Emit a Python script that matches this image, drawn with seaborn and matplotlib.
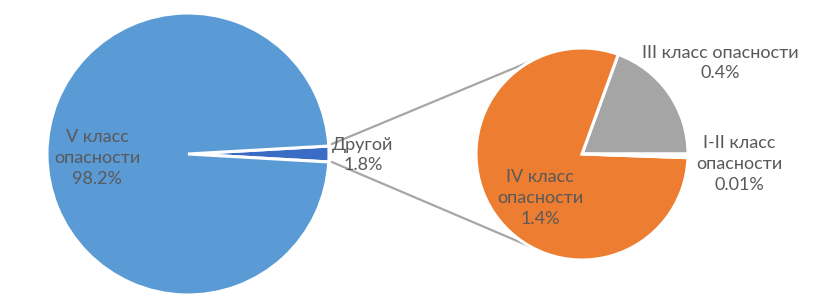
import numpy as np
import matplotlib
matplotlib.use("Agg")
import matplotlib.pyplot as plt
import seaborn as sns

# ---- data ----
main_labels = ["Другой", "V класс\nопасности"]
main_values = [1.8, 98.2]
main_texts = ["1.8%", "98.2%"]

sub_labels = ["III класс опасности", "IV класс\nопасности", "I-II класс\nопасности"]
sub_values = [0.35, 1.44, 0.01]
sub_texts = ["0.4%", "1.4%", "0.01%"]

sns.set_theme(style="white")
plt.rcParams["font.family"] = ["Lato", "DejaVu Sans"]

c_light = "#5B9BD5"
c_dark = "#3A6CC6"
c_orange = "#ED7D31"
c_gray = "#A5A5A5"
txt = "#595959"

W, H = 828, 305
fig = plt.figure(figsize=(W / 100, H / 100), dpi=100)
ax = fig.add_axes([0, 0, 1, 1])

# geometry (pixels, y up)
Lcx, Lcy, Lr = 188, H - 154, 141
Rcx, Rcy, Rr = 582, H - 154, 106

start = -main_values[0] / sum(main_values) * 360 / 2
wl, _ = ax.pie(main_values, colors=[c_dark, c_light], startangle=start,
               counterclock=True, center=(Lcx, Lcy), radius=Lr, frame=True,
               wedgeprops=dict(edgecolor="white", linewidth=2.2))

wr, _ = ax.pie(sub_values, colors=[c_gray, c_orange, "white"], startangle=0,
               counterclock=True, center=(Rcx, Rcy), radius=Rr, frame=True,
               wedgeprops=dict(edgecolor="white", linewidth=2.2))

# connector lines
t1, t2 = np.deg2rad(wl[0].theta1), np.deg2rad(wl[0].theta2)
p_top = (Lcx + Lr * np.cos(t2), Lcy + Lr * np.sin(t2))
p_bot = (Lcx + Lr * np.cos(t1), Lcy + Lr * np.sin(t1))
a_top, a_bot = np.deg2rad(119), np.deg2rad(-119)
q_top = (Rcx + Rr * np.cos(a_top), Rcy + Rr * np.sin(a_top))
q_bot = (Rcx + Rr * np.cos(a_bot), Rcy + Rr * np.sin(a_bot))
ax.plot([p_top[0] + 3, q_top[0]], [p_top[1] + 2, q_top[1]], color="#A6A6A6", lw=1.6, zorder=0)
ax.plot([p_bot[0] + 3, q_bot[0]], [p_bot[1], q_bot[1]], color="#A6A6A6", lw=1.6, zorder=0)

fs = 13
# labels
ax.text(Lcx - 91, Lcy - 4, f"{main_labels[1]}\n{main_texts[1]}", ha="center", va="center",
        fontsize=fs, color=txt, linespacing=1.35)
ax.text(Lcx + 175, Lcy - 1, f"{main_labels[0]}\n{main_texts[0]}", ha="center", va="center",
        fontsize=fs, color=txt, linespacing=1.35)
ax.text(Rcx + 138, Rcy + 91, f"{sub_labels[0]}\n{sub_texts[0]}", ha="center", va="center",
        fontsize=fs, color=txt, linespacing=1.35)
ax.text(Rcx - 42, Rcy - 44, f"{sub_labels[1]}\n{sub_texts[1]}", ha="center", va="center",
        fontsize=fs, color=txt, linespacing=1.35)
ax.text(Rcx + 157, Rcy - 10, f"{sub_labels[2]}\n{sub_texts[2]}", ha="center", va="center",
        fontsize=fs, color=txt, linespacing=1.35)

ax.set_xlim(0, W)
ax.set_ylim(0, H)
ax.set_aspect("equal")
ax.axis("off")
fig.savefig("out.png", dpi=100, facecolor="white")
